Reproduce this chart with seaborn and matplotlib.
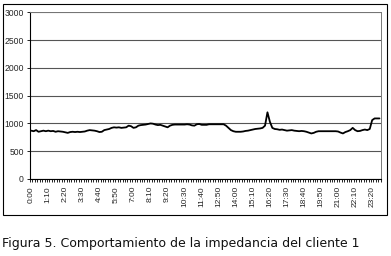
import matplotlib
matplotlib.use("Agg")
import matplotlib.pyplot as plt
from matplotlib.patches import Rectangle
from matplotlib.ticker import FixedLocator
import seaborn as sns
import pandas as pd

# Categories: 10-minute intervals over one day
times = [f"{i // 6}:{(i % 6) * 10:02d}" for i in range(144)]

# Impedance values (one per 10-minute interval)
impedance = [
    870, 860, 880, 850, 860, 870, 860,
    870, 860, 865, 850, 860, 855, 850,
    840, 830, 845, 850, 845, 850, 845,
    850, 855, 870, 880, 875, 870, 860,
    845, 850, 880, 890, 900, 920, 930,
    925, 930, 920, 925, 930, 960, 950,
    920, 930, 960, 970, 975, 980, 990,
    1000, 995, 980, 970, 975, 960, 945,
    930, 960, 975, 980, 980, 980, 980,
    980, 985, 980, 965, 960, 985, 990,
    975, 975, 975, 985, 985, 985, 985,
    985, 985, 985, 960, 920, 880, 860,
    850, 850, 850, 855, 865, 870, 880,
    890, 900, 905, 910, 920, 960, 1200,
    1030, 920, 900, 895, 885, 890, 880,
    870, 875, 880, 870, 865, 860, 865,
    860, 850, 835, 820, 830, 850, 860,
    860, 860, 860, 860, 860, 860, 860,
    855, 835, 820, 845, 860, 880, 920,
    880, 860, 865, 880, 890, 880, 900,
    1060, 1090, 1090, 1090,
]

tick_labels = ["0:00", "1:10", "2:20", "3:30", "4:40", "5:50", "7:00",
               "8:10", "9:20", "10:30", "11:40", "12:50", "14:00", "15:10",
               "16:20", "17:30", "18:40", "19:50", "21:00", "22:10", "23:20"]
y_ticks = [0, 500, 1000, 1500, 2000, 2500, 3000]
caption = "Figura 5. Comportamiento de la impedancia del cliente 1"

sns.set_theme(style="white")
plt.rcParams["font.family"] = ["Liberation Sans", "DejaVu Sans"]

W, H = 391, 256
fig = plt.figure(figsize=(W / 100, H / 100), dpi=100)
ax = fig.add_axes([30 / W, 1 - 179 / H, (380.7 - 30) / W, (179 - 12.3) / H])

df = pd.DataFrame({"pos": list(range(len(times))), "time": times, "value": impedance})
sns.lineplot(data=df, x="pos", y="value", ax=ax, color="black", linewidth=1.3)

ax.set_xlim(-0.5, len(times) - 0.5)
ax.set_ylim(0, 3000)
ax.set_yticks(y_ticks)
ax.set_yticklabels([str(v) for v in y_ticks], fontsize=6.2)
label_pos = [times.index(t) for t in tick_labels]
ax.set_xticks(label_pos)
ax.set_xticklabels(tick_labels, rotation=90, fontsize=6.0)
ax.xaxis.set_minor_locator(FixedLocator([i - 0.5 for i in range(len(times) + 1)]))
ax.tick_params(axis="x", which="major", length=0, pad=5)
ax.tick_params(axis="x", which="minor", length=2.2, width=0.6, color="black", direction="out", bottom=True)
ax.tick_params(axis="y", which="major", length=2.5, width=0.6, color="black", direction="out", left=True, pad=2)
ax.set_xlabel("")
ax.set_ylabel("")
ax.grid(axis="y", color="#555555", linewidth=0.8)
ax.grid(axis="x", visible=False)
for s in ["top", "right"]:
    ax.spines[s].set_color("#777777")
    ax.spines[s].set_linewidth(0.7)
for s in ["left", "bottom"]:
    ax.spines[s].set_color("black")
    ax.spines[s].set_linewidth(0.8)

fig.patches.append(Rectangle((3 / W, 1 - 215 / H), (387 - 3) / W, (215 - 4) / H,
                             transform=fig.transFigure, fill=False,
                             edgecolor="black", linewidth=0.8))

fig.text(2 / W, 1 - 243 / H, caption, fontsize=9.0, family=["DejaVu Sans"],
         ha="left", va="center", color="#111111")

fig.savefig("out.png", dpi=100)
